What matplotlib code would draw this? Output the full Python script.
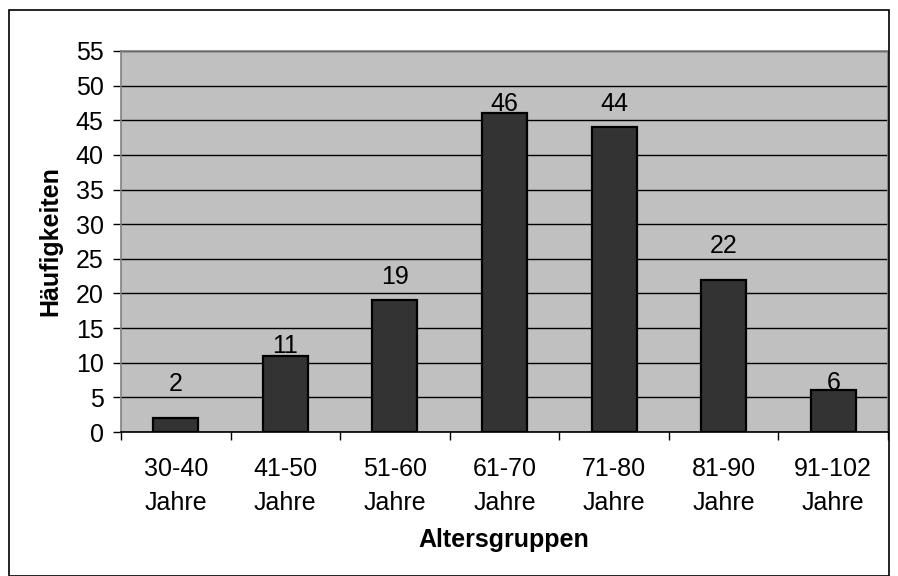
import matplotlib
matplotlib.use("Agg")
import matplotlib.pyplot as plt
from matplotlib.patches import Rectangle
import numpy as np

categories = ["30-40\nJahre", "41-50\nJahre", "51-60\nJahre", "61-70\nJahre",
              "71-80\nJahre", "81-90\nJahre", "91-102\nJahre"]
values = [2, 11, 19, 46, 44, 22, 6]
# vertical centre of each value label (data units), as placed in the original
label_pos = [6.9, 12.4, 22.4, 47.3, 47.3, 26.8, 7.1]
y_ticks = list(range(0, 56, 5))

plt.rcParams['font.family'] = ['Liberation Sans', 'DejaVu Sans']
FS = 18

W, H = 898, 576
fig = plt.figure(figsize=(W / 100, H / 100), dpi=100)
fig.patch.set_facecolor("white")

L, R, T, B = 121, 888, 51, 432
ax = fig.add_axes([L / W, 1 - B / H, (R - L) / W, (B - T) / H])
ax.set_facecolor("#c0c0c0")

x = np.arange(len(categories))
ax.bar(x, values, width=0.41, color="#333333", edgecolor="black",
       linewidth=1.6, zorder=3)

for xi, v, p in zip(x, values, label_pos):
    ax.text(xi, p, str(v), ha="center", va="center", fontsize=FS,
            color="black", zorder=4)

ax.set_xlim(-0.5, len(categories) - 0.5)
ax.set_ylim(0, 55)
ax.set_yticks(y_ticks)
ax.yaxis.grid(True, color="black", linewidth=1.0, zorder=1)
ax.set_axisbelow(True)

ax.set_xticks(x)
ax.set_xticklabels(categories, fontsize=FS, linespacing=1.5)
ax.set_xticks(np.arange(-0.5, len(categories), 1.0), minor=True)
ax.tick_params(axis="x", which="major", length=0, pad=18)
ax.tick_params(axis="x", which="minor", length=5.5, width=1.0, color="black",
               direction="out")
ax.tick_params(axis="y", length=5.5, width=1.0, color="black", direction="out",
               labelsize=FS, pad=7)

for side in ["left", "top", "right"]:
    ax.spines[side].set_color("#808080")
    ax.spines[side].set_linewidth(1.2)
ax.spines["bottom"].set_color("black")
ax.spines["bottom"].set_linewidth(1.2)

fig.text(50 / W, 1 - 241 / H, "Häufigkeiten", rotation=90, ha="center",
         va="center", fontsize=FS, fontweight="bold")
fig.text(504 / W, 1 - 540 / H, "Altersgruppen", ha="center", va="center",
         fontsize=FS, fontweight="bold")

fig.patches.append(Rectangle((9 / W, 0.5 / H), (W - 9.5) / W - 9 / W + 1 / W,
                             1 - 10 / H - 0.5 / H, transform=fig.transFigure,
                             fill=False, edgecolor="black", linewidth=1.2))

fig.savefig("out.png", dpi=100)
